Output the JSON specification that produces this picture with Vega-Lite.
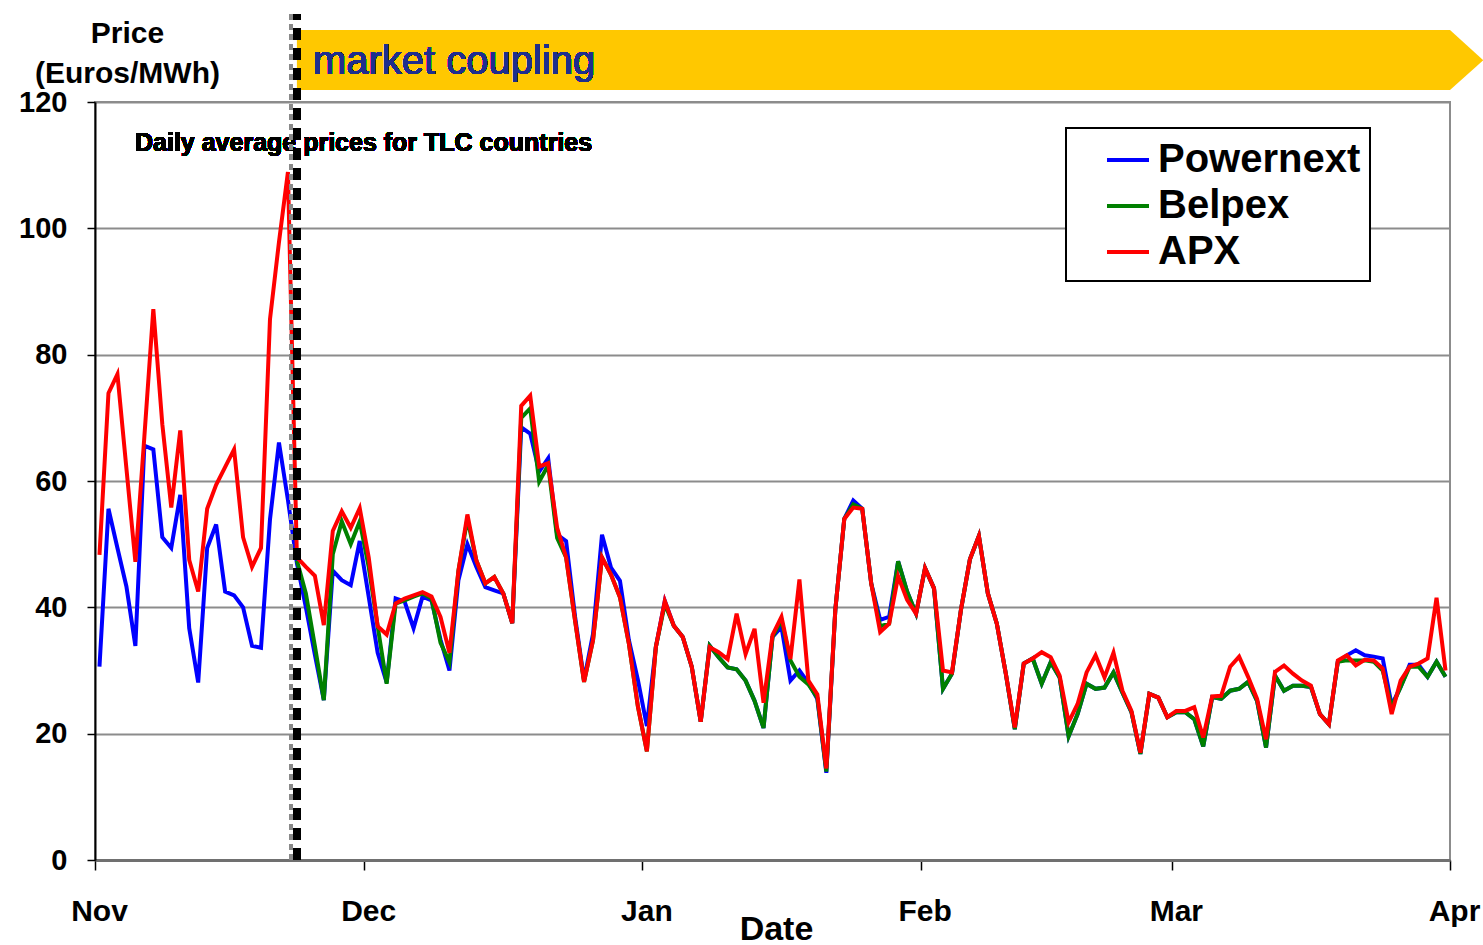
{
  "$schema": "https://vega.github.io/schema/vega-lite/v6.json",
  "width": 1355,
  "height": 758,
  "autosize": {"type": "none"},
  "padding": {"left": 95, "top": 102, "right": 33, "bottom": 85},
  "background": "white",
  "config": {
    "font": "Liberation Sans",
    "view": {"stroke": "#8c8c8c", "strokeWidth": 2},
    "legend": {"strokeWidth": 2},
    "axisX": {
      "labelExpr": "utcFormat(datum.value, '%b')",
      "labelFontSize": 30, "labelFontWeight": "bold", "labelColor": "black",
      "labelPadding": 26, "labelOffset": 4, "labelFlush": false, "labelOverlap": false,
      "tickSize": 10, "tickColor": "black", "tickWidth": 1.5,
      "domainColor": "#707070", "domainWidth": 3, "grid": false,
      "titleFontSize": 34, "titleFontWeight": "bold", "titleColor": "black"
    },
    "axisY": {
      "labelFontSize": 29, "labelFontWeight": "bold", "labelColor": "black", "labelPadding": 20,
      "tickSize": 8, "tickColor": "black", "tickWidth": 1.5,
      "domainColor": "black", "domainWidth": 2,
      "grid": true, "gridColor": "#8c8c8c", "gridWidth": 2,
      "titleFontSize": 30, "titleFontWeight": "bold", "titleColor": "black"
    }
  },
  "datasets": {
    "prices": [
      {"d":"2006-11-01","P":30.6,"B":null,"A":48.3},
      {"d":"2006-11-02","P":55.6,"B":null,"A":73.9},
      {"d":"2006-11-03","P":49.4,"B":null,"A":76.9},
      {"d":"2006-11-04","P":43.3,"B":null,"A":62.0},
      {"d":"2006-11-05","P":33.9,"B":null,"A":47.2},
      {"d":"2006-11-06","P":65.6,"B":null,"A":67.0},
      {"d":"2006-11-07","P":65.0,"B":null,"A":87.2},
      {"d":"2006-11-08","P":51.1,"B":null,"A":69.0},
      {"d":"2006-11-09","P":49.4,"B":null,"A":55.8},
      {"d":"2006-11-10","P":57.8,"B":null,"A":68.0},
      {"d":"2006-11-11","P":36.7,"B":null,"A":47.5},
      {"d":"2006-11-12","P":28.1,"B":null,"A":42.5},
      {"d":"2006-11-13","P":49.4,"B":null,"A":55.6},
      {"d":"2006-11-14","P":53.1,"B":null,"A":59.4},
      {"d":"2006-11-15","P":42.5,"B":null,"A":62.2},
      {"d":"2006-11-16","P":41.9,"B":null,"A":65.0},
      {"d":"2006-11-17","P":40.0,"B":null,"A":51.1},
      {"d":"2006-11-18","P":33.9,"B":null,"A":46.4},
      {"d":"2006-11-19","P":33.6,"B":null,"A":49.4},
      {"d":"2006-11-20","P":53.9,"B":null,"A":85.6},
      {"d":"2006-11-21","P":66.1,"B":null,"A":97.8},
      {"d":"2006-11-22","P":57.0,"B":null,"A":108.9},
      {"d":"2006-11-23","P":47.0,"B":47.4,"A":47.9},
      {"d":"2006-11-24","P":40.0,"B":42.2,"A":46.4},
      {"d":"2006-11-25","P":32.5,"B":33.9,"A":45.0},
      {"d":"2006-11-26","P":25.3,"B":25.3,"A":37.2},
      {"d":"2006-11-27","P":45.8,"B":48.4,"A":52.1},
      {"d":"2006-11-28","P":44.3,"B":53.6,"A":55.2},
      {"d":"2006-11-29","P":43.5,"B":50.0,"A":52.6},
      {"d":"2006-11-30","P":50.5,"B":53.6,"A":55.7},
      {"d":"2006-12-01","P":41.7,"B":46.4,"A":47.9},
      {"d":"2006-12-02","P":32.8,"B":37.0,"A":37.0},
      {"d":"2006-12-03","P":28.1,"B":27.9,"A":35.7},
      {"d":"2006-12-04","P":41.4,"B":40.6,"A":40.6},
      {"d":"2006-12-05","P":40.9,"B":41.1,"A":41.4},
      {"d":"2006-12-06","P":36.7,"B":41.7,"A":41.9},
      {"d":"2006-12-07","P":41.7,"B":42.2,"A":42.4},
      {"d":"2006-12-08","P":41.1,"B":41.4,"A":41.7},
      {"d":"2006-12-09","P":34.9,"B":34.4,"A":38.5},
      {"d":"2006-12-10","P":30.0,"B":31.3,"A":32.8},
      {"d":"2006-12-11","P":44.3,"B":45.8,"A":45.8},
      {"d":"2006-12-12","P":50.0,"B":54.0,"A":54.7},
      {"d":"2006-12-13","P":46.4,"B":47.4,"A":47.4},
      {"d":"2006-12-14","P":43.2,"B":43.8,"A":43.8},
      {"d":"2006-12-15","P":42.7,"B":44.8,"A":44.8},
      {"d":"2006-12-16","P":42.2,"B":42.2,"A":42.2},
      {"d":"2006-12-17","P":37.5,"B":37.5,"A":37.5},
      {"d":"2006-12-18","P":68.5,"B":70.0,"A":71.9},
      {"d":"2006-12-19","P":67.5,"B":71.5,"A":73.5},
      {"d":"2006-12-20","P":61.5,"B":59.9,"A":62.3},
      {"d":"2006-12-21","P":63.6,"B":62.5,"A":62.8},
      {"d":"2006-12-22","P":51.5,"B":51.0,"A":52.6},
      {"d":"2006-12-23","P":50.5,"B":47.9,"A":47.9},
      {"d":"2006-12-24","P":38.5,"B":37.9,"A":37.9},
      {"d":"2006-12-25","P":28.5,"B":28.2,"A":28.2},
      {"d":"2006-12-26","P":35.8,"B":34.8,"A":34.8},
      {"d":"2006-12-27","P":51.5,"B":47.9,"A":47.9},
      {"d":"2006-12-28","P":46.3,"B":45.2,"A":45.2},
      {"d":"2006-12-29","P":44.2,"B":41.6,"A":41.6},
      {"d":"2006-12-30","P":34.8,"B":34.2,"A":34.2},
      {"d":"2006-12-31","P":28.5,"B":24.3,"A":24.3},
      {"d":"2007-01-01","P":21.2,"B":17.2,"A":17.2},
      {"d":"2007-01-02","P":33.7,"B":33.7,"A":33.7},
      {"d":"2007-01-03","P":41.0,"B":40.5,"A":41.0},
      {"d":"2007-01-04","P":37.1,"B":37.1,"A":37.1},
      {"d":"2007-01-05","P":35.3,"B":35.3,"A":35.3},
      {"d":"2007-01-06","P":30.6,"B":30.6,"A":30.6},
      {"d":"2007-01-07","P":21.9,"B":21.9,"A":21.9},
      {"d":"2007-01-08","P":33.9,"B":33.9,"A":33.7},
      {"d":"2007-01-09","P":32.1,"B":32.1,"A":32.9},
      {"d":"2007-01-10","P":30.5,"B":30.5,"A":31.8},
      {"d":"2007-01-11","P":30.2,"B":30.2,"A":39.0},
      {"d":"2007-01-12","P":28.4,"B":28.4,"A":32.6},
      {"d":"2007-01-13","P":25.2,"B":25.2,"A":36.6},
      {"d":"2007-01-14","P":20.9,"B":20.9,"A":24.9},
      {"d":"2007-01-15","P":35.3,"B":35.3,"A":35.6},
      {"d":"2007-01-16","P":36.9,"B":38.0,"A":38.5},
      {"d":"2007-01-17","P":28.4,"B":31.6,"A":31.8},
      {"d":"2007-01-18","P":30.0,"B":29.0,"A":44.4},
      {"d":"2007-01-19","P":28.0,"B":27.8,"A":28.4},
      {"d":"2007-01-20","P":25.5,"B":25.7,"A":26.2},
      {"d":"2007-01-21","P":13.8,"B":14.0,"A":14.5},
      {"d":"2007-01-22","P":39.6,"B":39.6,"A":39.6},
      {"d":"2007-01-23","P":54.0,"B":54.0,"A":54.0},
      {"d":"2007-01-24","P":56.9,"B":56.3,"A":55.8},
      {"d":"2007-01-25","P":55.6,"B":55.6,"A":55.6},
      {"d":"2007-01-26","P":43.8,"B":43.8,"A":43.8},
      {"d":"2007-01-27","P":38.0,"B":37.0,"A":36.1},
      {"d":"2007-01-28","P":38.5,"B":37.4,"A":37.4},
      {"d":"2007-01-29","P":47.3,"B":47.3,"A":44.9},
      {"d":"2007-01-30","P":42.5,"B":42.5,"A":41.2},
      {"d":"2007-01-31","P":39.0,"B":39.0,"A":39.0},
      {"d":"2007-02-01","P":46.2,"B":46.2,"A":46.2},
      {"d":"2007-02-02","P":43.0,"B":43.0,"A":43.0},
      {"d":"2007-02-03","P":27.1,"B":27.1,"A":30.0},
      {"d":"2007-02-04","P":29.5,"B":29.5,"A":29.7},
      {"d":"2007-02-05","P":39.6,"B":39.6,"A":39.6},
      {"d":"2007-02-06","P":47.6,"B":47.6,"A":47.6},
      {"d":"2007-02-07","P":51.3,"B":51.3,"A":51.3},
      {"d":"2007-02-08","P":42.2,"B":42.2,"A":42.2},
      {"d":"2007-02-09","P":37.4,"B":37.4,"A":37.4},
      {"d":"2007-02-10","P":29.5,"B":29.5,"A":29.5},
      {"d":"2007-02-11","P":20.7,"B":20.7,"A":21.0},
      {"d":"2007-02-12","P":31.1,"B":31.1,"A":31.1},
      {"d":"2007-02-13","P":31.9,"B":31.9,"A":31.9},
      {"d":"2007-02-14","P":27.9,"B":27.9,"A":32.9},
      {"d":"2007-02-15","P":31.3,"B":31.3,"A":32.1},
      {"d":"2007-02-16","P":28.9,"B":28.9,"A":29.2},
      {"d":"2007-02-17","P":19.6,"B":19.6,"A":21.8},
      {"d":"2007-02-18","P":23.1,"B":23.1,"A":24.7},
      {"d":"2007-02-19","P":27.9,"B":27.9,"A":29.7},
      {"d":"2007-02-20","P":27.1,"B":27.1,"A":32.4},
      {"d":"2007-02-21","P":27.3,"B":27.3,"A":28.9},
      {"d":"2007-02-22","P":29.7,"B":29.7,"A":32.8},
      {"d":"2007-02-23","P":26.5,"B":26.5,"A":26.8},
      {"d":"2007-02-24","P":23.4,"B":23.4,"A":23.6},
      {"d":"2007-02-25","P":16.8,"B":16.8,"A":17.0},
      {"d":"2007-02-26","P":26.3,"B":26.3,"A":26.3},
      {"d":"2007-02-27","P":25.7,"B":25.7,"A":25.7},
      {"d":"2007-02-28","P":22.6,"B":22.6,"A":22.6},
      {"d":"2007-03-01","P":23.4,"B":23.4,"A":23.6},
      {"d":"2007-03-02","P":23.4,"B":23.4,"A":23.6},
      {"d":"2007-03-03","P":22.3,"B":22.3,"A":24.2},
      {"d":"2007-03-04","P":18.0,"B":18.0,"A":19.4},
      {"d":"2007-03-05","P":25.8,"B":25.8,"A":25.9},
      {"d":"2007-03-06","P":25.5,"B":25.5,"A":26.0},
      {"d":"2007-03-07","P":26.8,"B":26.8,"A":30.6},
      {"d":"2007-03-08","P":27.1,"B":27.1,"A":32.2},
      {"d":"2007-03-09","P":28.2,"B":28.2,"A":29.0},
      {"d":"2007-03-10","P":25.2,"B":25.2,"A":25.5},
      {"d":"2007-03-11","P":17.8,"B":17.8,"A":19.1},
      {"d":"2007-03-12","P":29.2,"B":29.2,"A":29.8},
      {"d":"2007-03-13","P":26.8,"B":26.8,"A":30.8},
      {"d":"2007-03-14","P":27.6,"B":27.6,"A":29.5},
      {"d":"2007-03-15","P":27.6,"B":27.6,"A":28.4},
      {"d":"2007-03-16","P":27.4,"B":27.4,"A":27.6},
      {"d":"2007-03-17","P":23.1,"B":23.1,"A":23.1},
      {"d":"2007-03-18","P":21.5,"B":21.5,"A":21.5},
      {"d":"2007-03-19","P":31.4,"B":31.4,"A":31.6},
      {"d":"2007-03-20","P":32.4,"B":31.6,"A":32.4},
      {"d":"2007-03-21","P":33.2,"B":31.6,"A":30.8},
      {"d":"2007-03-22","P":32.4,"B":31.6,"A":31.7},
      {"d":"2007-03-23","P":32.2,"B":31.4,"A":31.6},
      {"d":"2007-03-24","P":31.9,"B":30.0,"A":30.3},
      {"d":"2007-03-25","P":24.5,"B":24.2,"A":23.1},
      {"d":"2007-03-26","P":27.4,"B":27.4,"A":28.4},
      {"d":"2007-03-27","P":30.9,"B":30.6,"A":30.6},
      {"d":"2007-03-28","P":30.9,"B":30.6,"A":31.1},
      {"d":"2007-03-29","P":29.0,"B":29.0,"A":31.9},
      {"d":"2007-03-30","P":31.4,"B":31.4,"A":41.5},
      {"d":"2007-03-31","P":29.0,"B":29.0,"A":30.0}
    ]
  },
  "data": {"name": "prices"},
  "layer": [
    {
      "data": {"values": [
        {"bx": "2006-11-23T12:00:00Z", "lo": 121.9, "hi": 131.4},
        {"bx": "2007-04-01T00:00:00Z", "lo": 121.9, "hi": 131.4},
        {"bx": "2007-04-04T17:00:00Z", "lo": 126.6, "hi": 126.6}
      ]},
      "mark": {"type": "area", "color": "#FFC800", "clip": false, "orient": "vertical", "interpolate": "linear"},
      "encoding": {
        "x": {
          "field": "bx", "type": "temporal",
          "scale": {"type": "utc", "domain": [{"year": 2006, "month": 11, "date": 1, "utc": true}, {"year": 2007, "month": 4, "date": 1, "utc": true}]},
          "axis": {
            "values": [
              {"year": 2006, "month": 11, "date": 1, "utc": true},
              {"year": 2006, "month": 12, "date": 1, "utc": true},
              {"year": 2007, "month": 1, "date": 1, "utc": true},
              {"year": 2007, "month": 2, "date": 1, "utc": true},
              {"year": 2007, "month": 3, "date": 1, "utc": true},
              {"year": 2007, "month": 4, "date": 1, "utc": true}
            ],
            "labelExpr": "utcFormat(datum.value, '%b')",
            "title": "Date", "titleX": 681, "titleY": 79, "titleBaseline": "alphabetic", "titleAlign": "center"
          }
        },
        "y": {
          "field": "lo", "type": "quantitative", "scale": {"domain": [0, 120], "nice": false},
          "axis": {
            "values": [0, 20, 40, 60, 80, 100, 120],
            "title": ["Price", "(Euros/MWh)"], "titleAngle": 0, "titleAlign": "center", "titleBaseline": "alphabetic",
            "titleX": 32, "titleY": -60, "titleLineHeight": 40
          }
        },
        "y2": {"field": "hi"}
      }
    },
    {
      "mark": {"type": "text", "text": "market coupling", "align": "left", "baseline": "middle", "fontSize": 40, "color": "#1F2E8E", "clip": false},
      "encoding": {
        "x": {"datum": {"year": 2006, "month": 11, "date": 25, "hours": 7, "utc": true}, "type": "temporal"},
        "y": {"datum": 126.4, "type": "quantitative"}
      }
    },
    {
      "mark": {"type": "text", "text": "Daily average prices for TLC countries", "align": "left", "baseline": "middle", "fontSize": 25, "fontWeight": "bold", "color": "black", "clip": false},
      "encoding": {
        "x": {"datum": {"year": 2006, "month": 11, "date": 5, "hours": 11, "utc": true}, "type": "temporal"},
        "y": {"datum": 113.5, "type": "quantitative"}
      }
    },
    {
      "mark": {"type": "line", "strokeWidth": 4},
      "encoding": {
        "x": {"field": "d", "type": "temporal", "timeUnit": "utcyearmonthdate", "bandPosition": 0.5},
        "y": {"field": "P", "type": "quantitative"},
        "color": {
          "datum": "Powernext", "type": "nominal",
          "scale": {"domain": ["Powernext", "Belpex", "APX"], "range": ["#0000FF", "#008000", "#FF0000"]},
          "legend": {
            "orient": "none", "legendX": 971, "legendY": 26, "title": null,
            "symbolType": "stroke", "symbolSize": 1764, "symbolStrokeWidth": 4,
            "labelFontSize": 40, "labelFontWeight": "bold", "labelColor": "black", "labelLimit": 500,
            "strokeColor": "black", "fillColor": "white", "padding": 9, "rowPadding": 3,
            "symbolOffset": 30, "labelOffset": 7, "cornerRadius": 0
          }
        }
      }
    },
    {
      "mark": {"type": "line", "strokeWidth": 4},
      "encoding": {
        "x": {"field": "d", "type": "temporal", "timeUnit": "utcyearmonthdate", "bandPosition": 0.5},
        "y": {"field": "B", "type": "quantitative"},
        "color": {"datum": "Belpex", "type": "nominal"}
      }
    },
    {
      "mark": {"type": "line", "strokeWidth": 4},
      "encoding": {
        "x": {"field": "d", "type": "temporal", "timeUnit": "utcyearmonthdate", "bandPosition": 0.5},
        "y": {"field": "A", "type": "quantitative"},
        "color": {"datum": "APX", "type": "nominal"}
      }
    },
    {
      "mark": {"type": "rule", "color": "#8a8a8a", "strokeWidth": 3, "strokeDash": [6, 4], "xOffset": -3, "clip": false},
      "encoding": {
        "x": {"datum": {"year": 2006, "month": 11, "date": 23, "hours": 4, "utc": true}, "type": "temporal"},
        "y": {"datum": 0, "type": "quantitative"},
        "y2": {"datum": 133.8}
      }
    },
    {
      "mark": {"type": "rule", "color": "black", "strokeWidth": 7, "strokeDash": [12, 8], "xOffset": 3, "clip": false},
      "encoding": {
        "x": {"datum": {"year": 2006, "month": 11, "date": 23, "hours": 4, "utc": true}, "type": "temporal"},
        "y": {"datum": 0, "type": "quantitative"},
        "y2": {"datum": 133.8}
      }
    }
  ]
}
